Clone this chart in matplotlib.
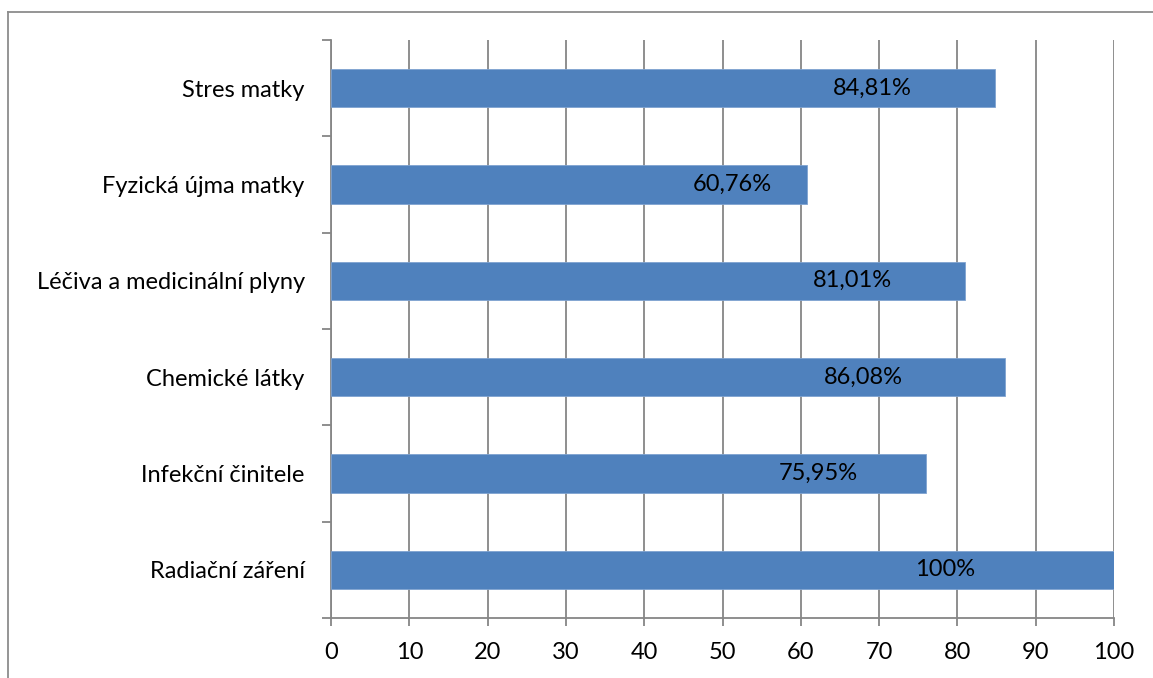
import matplotlib
matplotlib.use("Agg")
import matplotlib.pyplot as plt
from matplotlib.lines import Line2D
from matplotlib.ticker import MultipleLocator, FixedLocator

# Kategorien (von unten nach oben) und Anteile in Prozent
kategorien = ["Radiační záření", "Infekční činitele", "Chemické látky",
              "Léčiva a medicinální plyny", "Fyzická újma matky", "Stres matky"]
werte = [100, 75.95, 86.08, 81.01, 60.76, 84.81]
beschriftung = ["100%", "75,95%", "86,08%", "81,01%", "60,76%", "84,81%"]
# x-Position der Wertbeschriftung (Achseneinheiten)
label_x = [78.4, 62.2, 68.0, 66.6, 51.2, 69.1]

blau = "#4F81BD"
grau = "#868686"
fs = 17

plt.rcParams["font.family"] = ["Lato", "DejaVu Sans"]

fig = plt.figure(figsize=(11.53, 6.78), dpi=100)
ax = fig.add_axes([0.2871, 0.0885, 0.6791, 0.8525])

pos = list(range(len(kategorien)))
ax.barh(pos, werte, height=0.4, color=blau, edgecolor="#7FA3D0", linewidth=0.6, zorder=3)

for y, x, t in zip(pos, label_x, beschriftung):
    ax.text(x, y, t, ha="center", va="center", fontsize=fs, color="black", zorder=4)

# Achsen
ax.set_xlim(0, 100)
ax.set_ylim(-0.5, len(kategorien) - 0.5)
ax.xaxis.set_major_locator(MultipleLocator(10))
ax.set_yticks(pos)
ax.set_yticklabels(kategorien)
ax.yaxis.set_minor_locator(FixedLocator([p - 0.5 for p in pos] + [pos[-1] + 0.5]))

ax.tick_params(axis="y", which="major", length=0, pad=19, labelsize=fs)
ax.tick_params(axis="y", which="minor", length=6.5, width=1.3, color=grau, direction="out")
ax.tick_params(axis="x", which="major", length=6, width=1.3, color=grau, direction="out",
               pad=11, labelsize=fs)

for s in ["top", "right"]:
    ax.spines[s].set_visible(False)
for s in ["left", "bottom"]:
    ax.spines[s].set_color(grau)
    ax.spines[s].set_linewidth(1.3)

# Gitternetz
ax.grid(axis="x", color=grau, linewidth=1.3, zorder=0)
ax.set_axisbelow(True)

# Diagrammrahmen oben und links
rahmen = "#8C8C8C"
fig.add_artist(Line2D([0.007, 1.0], [0.983, 0.983], color=rahmen, lw=1.3, transform=fig.transFigure))
fig.add_artist(Line2D([0.007, 0.007], [0.0, 0.983], color=rahmen, lw=1.3, transform=fig.transFigure))

fig.savefig("out.png", dpi=100)
